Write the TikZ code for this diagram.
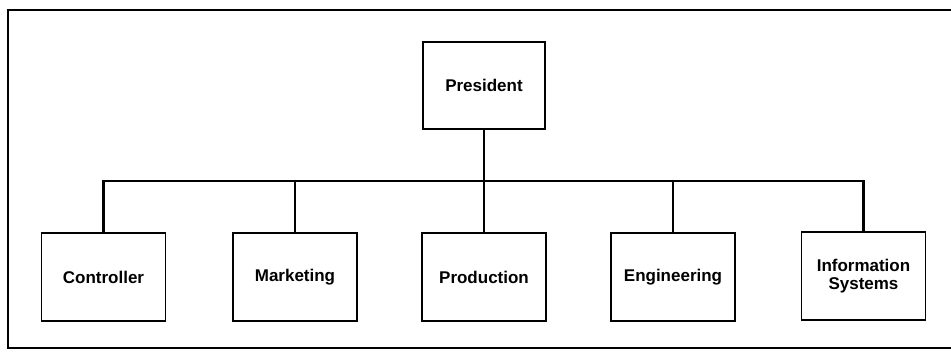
\documentclass[tikz,border=0pt]{standalone}
\usepackage{fontspec}
\setmainfont{Liberation Sans}
\usepackage{tikz}
\usetikzlibrary{positioning,calc}

\begin{document}
\begin{tikzpicture}[x=0.03cm,y=-0.03cm,
    unit/.style={draw,line width=1.4pt,minimum width=3.72cm,minimum height=2.64cm,
      align=center,inner sep=0pt,font=\fontsize{14.5}{17}\selectfont\bfseries},
    link/.style={line width=2.5pt}]
  \useasboundingbox (0,0) rectangle (951,351);
  \draw[line width=2.4pt] (951,10) -- (8,10) -- (8,348) -- (951,348);
  \node[unit,minimum width=3.66cm,minimum height=2.61cm] (pres) at (484,85.5) {President};
  \node[unit] (ctrl) at (103.5,277) {Controller};
  \node[unit] (mkt)  at (295,277) {Marketing};
  \node[unit] (prod) at (484,277) {Production};
  \node[unit] (eng)  at (673,277) {Engineering};
  \node[unit] (info) at (863.5,276) {Information\\[-1pt]Systems};
  \coordinate (bus) at (484,181);
  \draw[link] (pres) -- (prod);
  \draw[link] (ctrl.north) |- (bus) -| (info.north);
  \draw[link] (mkt.north) -- (mkt.north |- bus);
  \draw[link] (eng.north) -- (eng.north |- bus);
\end{tikzpicture}
\end{document}
